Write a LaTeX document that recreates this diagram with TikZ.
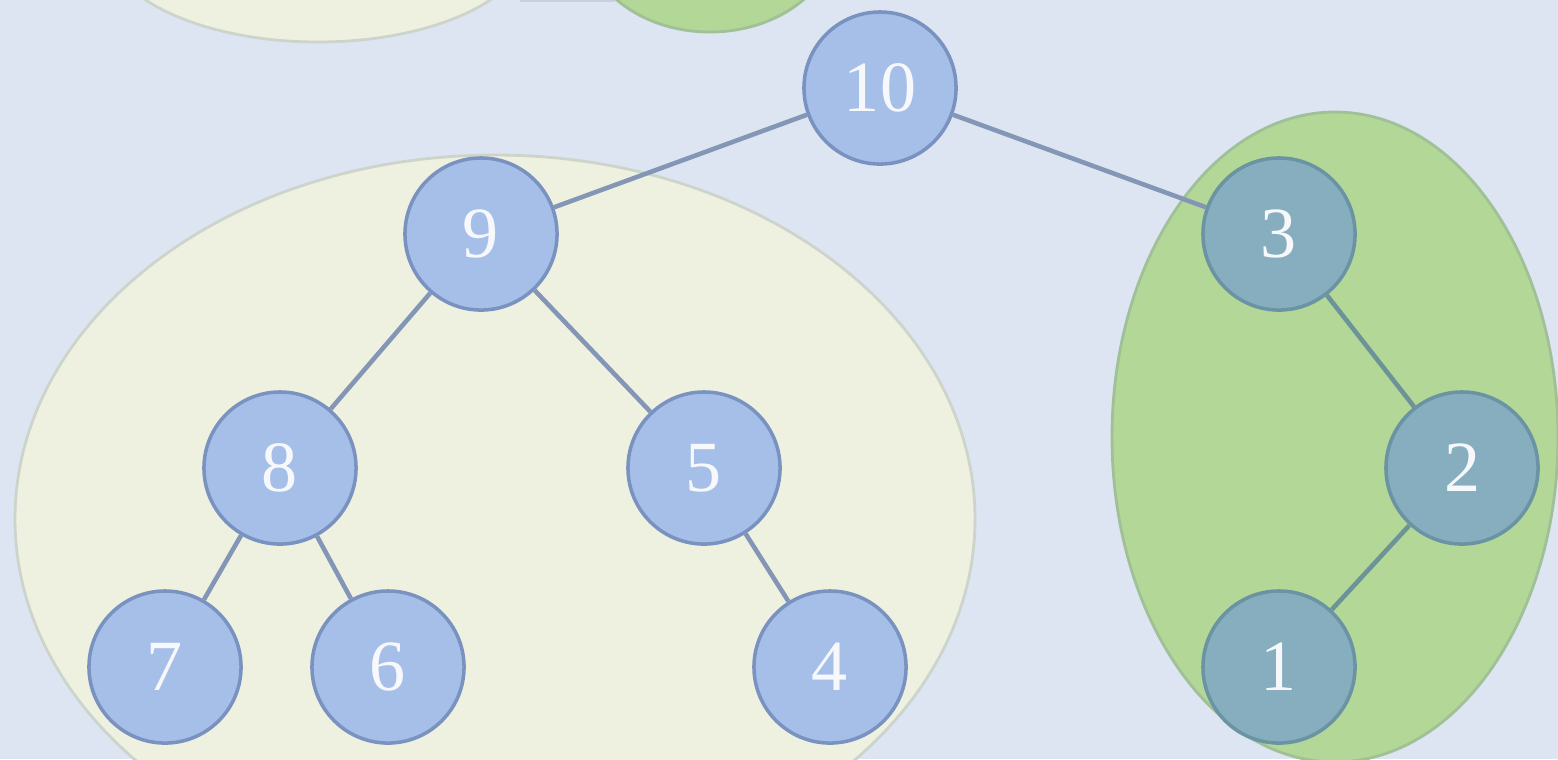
\documentclass[tikz,border=0pt]{standalone}
\usepackage{fontspec}
\setmainfont{Liberation Serif}
\definecolor{paper}{RGB}{221,229,242}
\definecolor{cream}{RGB}{239,241,224}
\definecolor{creamedge}{RGB}{205,212,204}
\definecolor{leaf}{RGB}{178,215,150}
\definecolor{leafedge}{RGB}{160,192,152}
\definecolor{bluefill}{RGB}{166,191,233}
\definecolor{blueedge}{RGB}{122,146,192}
\definecolor{tealfill}{RGB}{134,174,191}
\definecolor{tealedge}{RGB}{106,148,164}
\definecolor{linkblue}{RGB}{132,150,182}
\definecolor{linkteal}{RGB}{108,148,152}
\definecolor{keytext}{RGB}{246,248,252}
\tikzset{
  keynode/.style={circle, minimum size=1.52cm, inner sep=0pt, line width=1pt,
    draw=blueedge, fill=bluefill, text=keytext, font=\fontsize{20.5}{20.5}\selectfont},
  greenkey/.style={keynode, draw=tealedge, fill=tealfill},
  link/.style={line width=1.3pt, draw=linkblue},
  greenlink/.style={line width=1.3pt, draw=linkteal},
  subtree/.style={line width=0.8pt, draw=creamedge, fill=cream},
  heavytree/.style={line width=0.8pt, draw=leafedge, fill=leaf}
}
\begin{document}
\begin{tikzpicture}[x=0.01cm, y=-0.01cm]
  \useasboundingbox (0,0) rectangle (1558,759);
  \fill[paper] (0,0) rectangle (1558,759);
  \begin{scope}
    \clip (0,0) rectangle (1558,759);
    % subtrees of the tree above, cut off by the frame
    \draw[subtree] (318,-60) ellipse [x radius=213, y radius=102];
    \draw[heavytree] (710,-68) ellipse [x radius=127, y radius=100];
    \draw[line width=0.5pt, draw=linkblue!45] (520,1) -- (615,1);
    % light subtree and heavy subtree
    \draw[subtree] (495,519) ellipse [x radius=480, y radius=364];
    \draw[heavytree] (1335,437) ellipse [x radius=223, y radius=325];
  \end{scope}

  % keys
  \node[keynode]  (n10) at (880,88)  {10};
  \node[keynode]  (n9)  at (481,234) {9};
  \node[greenkey] (n3)  at (1279,234) {3};
  \node[keynode]  (n8)  at (280,468) {8};
  \node[keynode]  (n5)  at (704,468) {5};
  \node[greenkey] (n2)  at (1462,468) {2};
  \node[keynode]  (n7)  at (165,667) {7};
  \node[keynode]  (n6)  at (388,667) {6};
  \node[keynode]  (n4)  at (830,667) {4};
  \node[greenkey] (n1)  at (1279,667) {1};

  % links
  \draw[link] (n10) -- (n9);
  \draw[link] (n10) -- (n3);
  \draw[link] (n9) -- (n8);
  \draw[link] (n9) -- (n5);
  \draw[link] (n8) -- (n7);
  \draw[link] (n8) -- (n6);
  \draw[link] (n5) -- (n4);
  \draw[greenlink] (n3) -- (n2);
  \draw[greenlink] (n2) -- (n1);
\end{tikzpicture}
\end{document}
